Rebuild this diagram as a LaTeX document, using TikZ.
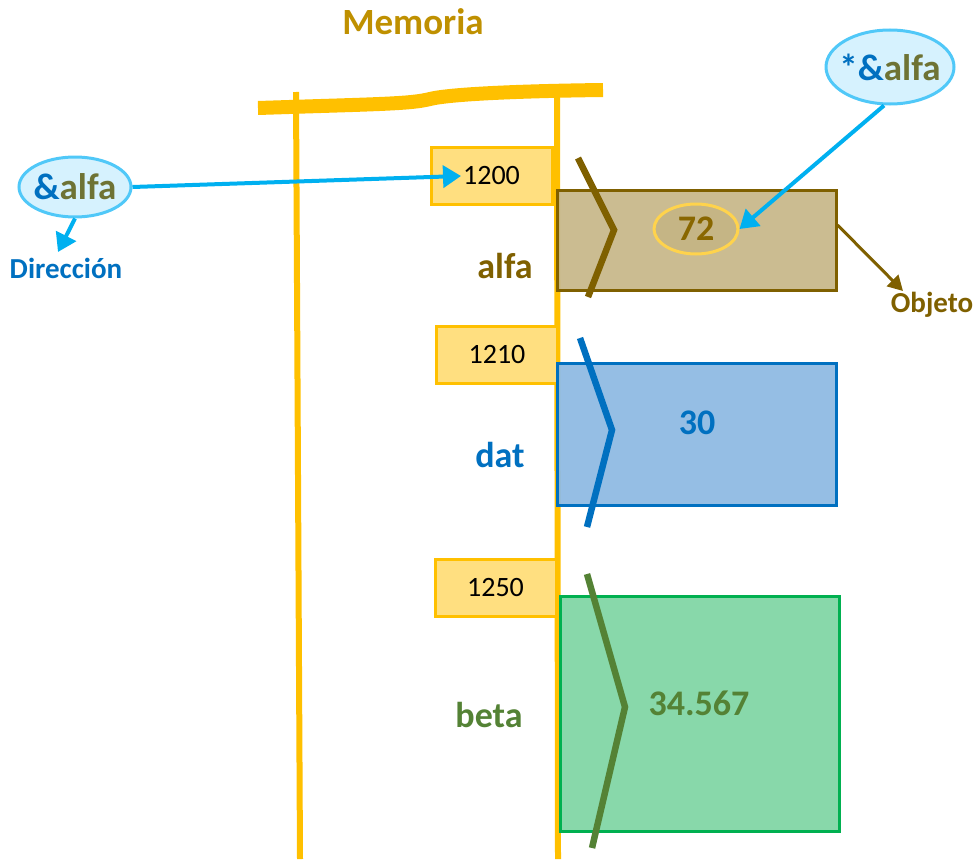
\documentclass[tikz,border=0pt]{standalone}
\usepackage{fontspec}
\setmainfont{Carlito}
\definecolor{memyellow}{RGB}{255,192,0}
\definecolor{memgold}{RGB}{191,144,0}
\definecolor{cellfill}{RGB}{255,223,128}
\definecolor{objbrown}{RGB}{127,96,0}
\definecolor{objtan}{RGB}{197,181,133}
\definecolor{datblue}{RGB}{0,112,192}
\definecolor{datfill}{RGB}{140,185,226}
\definecolor{betagreen}{RGB}{84,130,53}
\definecolor{betaline}{RGB}{0,176,80}
\definecolor{betafill}{RGB}{136,216,170}
\definecolor{ptrcyan}{RGB}{0,176,240}
\definecolor{ptrfill}{RGB}{214,242,254}
\definecolor{ptrline}{RGB}{80,200,248}
\definecolor{olive}{RGB}{110,115,52}
\usepackage{tikz}
\usetikzlibrary{shapes.geometric,arrows.meta}

\begin{document}
\begin{tikzpicture}[x=1pt,y=-1pt]

%
% Styles
%
\tikzstyle{addr}    = [draw=memyellow,fill=cellfill,line width=3pt,minimum width=121pt,minimum height=57pt,font=\fontsize{28}{30}\selectfont]
\tikzstyle{varname} = [font=\bfseries\fontsize{36}{40}\selectfont]
\tikzstyle{value}   = [font=\bfseries\fontsize{36}{40}\selectfont]
\tikzstyle{ptr}     = [ellipse,draw=ptrline,fill=ptrfill,line width=3pt,inner sep=-10pt]
\tikzstyle{cyanarr} = [-{Triangle[length=18pt,width=22pt]},draw=ptrcyan,line width=4pt]
\tikzstyle{chev}    = [line width=6.5pt]

\useasboundingbox (0,0) rectangle (979,859);

% memory column
\node[font=\bfseries\fontsize{37}{40}\selectfont,text=memgold] (mem) at (413,22) {Memoria};
\draw[memyellow,line width=6pt] (296,92) -- (300,859);
\draw[memyellow,line width=6pt] (557,96) -- (558,859);
\draw[memyellow,line width=14pt] (258,108) .. controls (380,104) and (410,104) .. (430,99)
  .. controls (450,94) and (520,91) .. (603,90);

% cells
\node[addr] (a1200) at (491.5,176) {1200};
\node[addr] (a1210) at (497,354.5) {1210};
\node[addr] (a1250) at (495.5,588) {1250};

\node[draw=objbrown,fill=objtan,fill opacity=0.9,text opacity=1,line width=3pt,minimum width=279pt,minimum height=100pt] (alfa) at (696.5,240) {};
\node[draw=datblue,fill=datfill,fill opacity=0.92,line width=3pt,minimum width=279pt,minimum height=142pt] (dat) at (696.5,434) {};
\node[draw=betaline,fill=betafill,line width=3pt,minimum width=279pt,minimum height=235pt] (beta) at (699.5,713.5) {};

\draw[chev,objbrown] (578,158) -- (614,230) -- (588,297);
\draw[chev,datblue] (580,338) -- (612,430) -- (587,527);
\draw[chev,betagreen] (587,574) -- (625,707) -- (592,848);

\node[varname,text=objbrown] (nalfa) at (505,266) {alfa};
\node[varname,text=datblue] (ndat) at (500,455) {dat};
\node[varname,text=betagreen] (nbeta) at (489,715) {beta};

\node[ellipse,draw=memyellow!70,fill=objtan,line width=3pt,minimum width=84pt,minimum height=50pt,value,text=objbrown!85!memgold] (v72) at (696,229) {72};
\node[value,text=datblue] (v30) at (697,423) {30};
\node[value,text=betagreen] (v34) at (699,703) {34.567};

% pointers
\node[ptr,minimum width=112pt,minimum height=60pt,font=\bfseries\fontsize{37}{40}\selectfont] (ref) at (75,187) {\textcolor{datblue}{\&}\textcolor{olive}{alfa}};
\node[ptr,minimum width=128pt,minimum height=74pt,font=\bfseries\fontsize{37}{40}\selectfont] (deref) at (890,67) {\textcolor{datblue}{*\&}\textcolor{olive}{alfa}};
\coordinate (into) at (461,176);
\draw[cyanarr] (ref.east) -- (into);
\draw[cyanarr] (deref.south) ++(-6,0) -- (v72.east);

\node[font=\bfseries\fontsize{29}{30}\selectfont,text=datblue] (dir) at (66,268) {Dirección};
\coordinate (dirtip) at (58,252);
\draw[cyanarr] (ref.south) -- (dirtip);

\node[font=\bfseries\fontsize{29}{30}\selectfont,text=objbrown] (obj) at (932,305) {Objeto};
\coordinate (objtip) at (903,291);
\draw[-{Triangle[length=15pt,width=16pt]},objbrown,line width=3pt] (alfa.east) ++(0,-15) -- (objtip);

\end{tikzpicture}
\end{document}
